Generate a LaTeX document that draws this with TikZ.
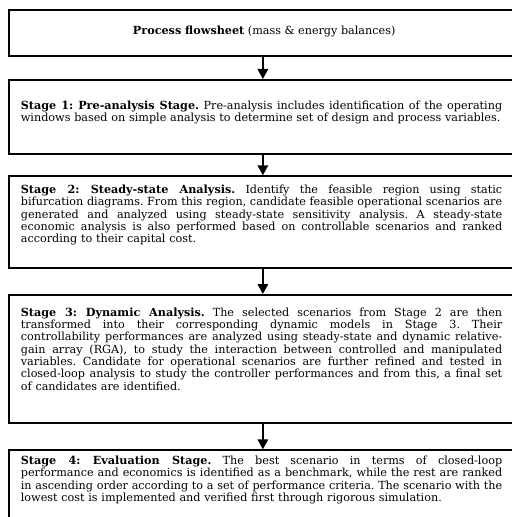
\documentclass[tikz,border=0pt]{standalone}
\usepackage{fontspec}
\setmainfont{DejaVu Serif}
\usetikzlibrary{arrows.meta}
\frenchspacing
\newcommand\jl[1]{{\spaceskip=0pt\xspaceskip=0pt\makebox[481.3bp][s]{#1}}}
\begin{document}
\begin{tikzpicture}[x=1bp,y=-1bp,
  stagebox/.style={draw=black, line width=1.7bp, minimum width=507.4bp, anchor=north west, inner sep=0pt},
  stagetext/.style={anchor=base west, text width=481.3bp, align=left, inner sep=0pt, font=\fontsize{11.2bp}{12.33bp}\selectfont},
  flowarrow/.style={line width=1.6bp, -{Triangle[width=10.5bp,length=10bp]}}]
\useasboundingbox (0,0) rectangle (512,517);
\node[stagebox, minimum height=46.2bp] (p) at (8.3,9.3) {};
\node[stagebox, minimum height=74bp] (s1) at (8.3,79) {};
\node[stagebox, minimum height=91.7bp] (s2) at (8.3,175.3) {};
\node[stagebox, minimum height=128.3bp] (s3) at (8.3,294) {};
\node[stagebox, minimum height=100bp] (s4) at (8.3,449.3) {};
\draw[flowarrow] (p.south) -- (s1.north);
\draw[flowarrow] (s1.south) -- (s2.north);
\draw[flowarrow] (s2.south) -- (s3.north);
\draw[flowarrow] (s3.south) -- (s4.north);
\node[anchor=base, inner sep=0pt, font=\fontsize{11.2bp}{12.33bp}\selectfont] (pt) at (264.2,34.5) {\textbf{Process flowsheet} (mass \& energy balances)};
\node[stagetext] (t1) at (20.7,109.5) {%
\jl{\textbf{Stage 1: Pre-analysis Stage.} Pre-analysis includes identification of the operating}\\
windows based on simple analysis to determine set of design and process variables.};
\node[stagetext] (t2) at (20.7,193.5) {%
\jl{\textbf{Stage 2: Steady-state Analysis.} Identify the feasible region using static}\\
\jl{bifurcation diagrams. From this region, candidate feasible operational scenarios are}\\
\jl{generated and analyzed using steady-state sensitivity analysis. A steady-state}\\
\jl{economic analysis is also performed based on controllable scenarios and ranked}\\
according to their capital cost.};
\node[stagetext] (t3) at (20.7,316.1) {%
\jl{\textbf{Stage 3: Dynamic Analysis.} The selected scenarios from Stage 2 are then}\\
\jl{transformed into their corresponding dynamic models in Stage 3. Their}\\
\jl{controllability performances are analyzed using steady-state and dynamic relative-}\\
\jl{gain array (RGA), to study the interaction between controlled and manipulated}\\
\jl{variables. Candidate for operational scenarios are further refined and tested in}\\
\jl{closed-loop analysis to study the controller performances and from this, a final set}\\
of candidates are identified.};
\node[stagetext] (t4) at (20.7,464.5) {%
\jl{\textbf{Stage 4: Evaluation Stage.} The best scenario in terms of closed-loop}\\
\jl{performance and economics is identified as a benchmark, while the rest are ranked}\\
\jl{in ascending order according to a set of performance criteria. The scenario with the}\\
lowest cost is implemented and verified first through rigorous simulation.};
\end{tikzpicture}
\end{document}
